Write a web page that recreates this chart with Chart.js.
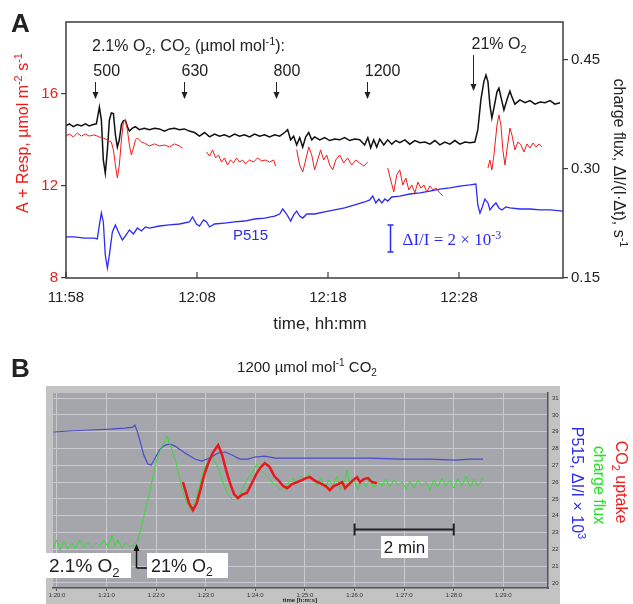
<!DOCTYPE html>
<html>
<head>
<meta charset="utf-8">
<script src="https://cdn.jsdelivr.net/npm/chart.js@4.4.1/dist/chart.umd.min.js"></script>
<style>
  html, body { margin: 0; padding: 0; background: #fff; }
  #wrap { position: relative; width: 633px; height: 604px; overflow: hidden; }
  canvas { position: absolute; left: 0; }
</style>
</head>
<body>
<div id="wrap">
  <canvas id="chartA" width="633" height="340" style="top:0"></canvas>
  <canvas id="chartB" width="633" height="274" style="top:330px"></canvas>
</div>
<script>
// ---------- panel A data: [minutes after 11:58, value] ----------
const timeLabelsA = ["11:58", "12:08", "12:18", "12:28"];
const co2Steps = ["500", "630", "800", "1200"];
const co2StepTimes = [2.24, 8.97, 16.0, 22.96];
const o2StepTime = 31.06;

// charge flux, s-1 (right axis)
const chargeFluxA = [
  [0,0.359],[0.25,0.362],[0.56,0.358],[0.86,0.361],[1.17,0.359],[1.48,0.362],[1.78,0.359],[2.09,0.361],
  [2.32,0.362],[2.55,0.385],[2.70,0.367],[2.85,0.312],[3.00,0.294],[3.16,0.326],[3.31,0.367],[3.46,0.377],
  [3.62,0.376],[3.77,0.347],[3.92,0.330],[4.07,0.340],[4.23,0.361],[4.38,0.366],[4.53,0.367],[4.69,0.358],
  [4.84,0.352],[5.07,0.356],[5.30,0.358],[5.60,0.354],[5.98,0.356],[6.37,0.354],[6.75,0.356],[7.13,0.355],
  [7.52,0.352],[7.90,0.355],[8.28,0.356],[8.66,0.354],[9.04,0.355],[9.42,0.352],[9.81,0.350],[10.19,0.345],
  [10.58,0.350],[10.96,0.344],[11.34,0.348],[11.72,0.345],[12.10,0.347],[12.48,0.344],[12.87,0.348],[13.25,0.345],
  [13.63,0.347],[14.01,0.344],[14.40,0.348],[14.78,0.345],[15.16,0.347],[15.54,0.344],[15.93,0.347],[16.31,0.345],
  [16.69,0.350],[16.92,0.354],[17.15,0.340],[17.38,0.345],[17.61,0.333],[17.84,0.343],[18.07,0.330],[18.30,0.344],
  [18.53,0.350],[18.76,0.340],[18.98,0.344],[19.37,0.340],[19.75,0.343],[20.13,0.339],[20.51,0.341],[20.89,0.340],
  [21.27,0.343],[21.66,0.339],[22.04,0.341],[22.42,0.340],[22.80,0.333],[23.04,0.343],[23.26,0.329],[23.49,0.340],
  [23.72,0.330],[23.95,0.341],[24.26,0.333],[24.56,0.340],[24.87,0.334],[25.18,0.339],[25.48,0.336],[25.87,0.340],
  [26.24,0.334],[26.63,0.339],[27.01,0.336],[27.40,0.337],[27.78,0.334],[28.16,0.339],[28.54,0.333],[28.92,0.337],
  [29.30,0.334],[29.69,0.339],[30.07,0.334],[30.45,0.337],[30.83,0.336],[31.21,0.337],[31.44,0.354],[31.67,0.395],
  [31.90,0.420],[32.06,0.429],[32.21,0.420],[32.36,0.388],[32.51,0.370],[32.67,0.384],[32.90,0.406],[33.05,0.411],
  [33.20,0.399],[33.43,0.381],[33.66,0.395],[33.89,0.407],[34.04,0.399],[34.27,0.389],[34.65,0.395],[35.04,0.391],
  [35.42,0.394],[35.80,0.389],[36.19,0.392],[36.57,0.391],[36.95,0.394],[37.33,0.389],[37.71,0.391]
];

// A + Resp, umol m-2 s-1 (left axis); null = gap between measurements
const assimilationA = [
  [0,14.17],[0.25,14.26],[0.56,14.13],[0.86,14.30],[1.17,14.17],[1.48,14.26],[1.78,14.17],[2.09,14.22],
  [2.39,14.17],[2.55,14.13],[2.85,14.09],[3.16,14.00],[3.46,13.91],[3.62,13.57],[3.77,12.91],[3.92,12.35],
  [4.07,12.91],[4.23,14.00],[4.38,14.78],[4.53,14.87],[4.69,14.43],[4.84,13.78],[4.99,13.35],[5.15,13.65],
  [5.30,14.00],[5.45,14.09],[5.76,13.91],[5.98,13.87],[6.37,13.74],[6.75,13.83],[7.13,13.74],[7.52,13.78],
  [7.90,13.70],[8.28,13.83],[8.66,13.74],[8.89,13.65],
  [9.8,null],
  [10.73,13.48],[10.96,13.30],[11.19,13.57],[11.42,13.22],[11.64,13.35],[11.87,13.04],[12.10,13.22],[12.33,12.91],
  [12.56,13.13],[12.79,13.00],[13.02,13.22],[13.25,13.04],[13.48,13.13],[13.71,12.96],[14.01,13.13],[14.32,13.04],
  [14.62,13.22],[14.93,13.09],[15.24,13.13],[15.54,13.04],[15.85,13.13],[16.00,12.87],
  [16.8,null],
  [17.61,13.57],[17.84,12.91],[18.07,12.61],[18.30,13.13],[18.53,13.70],[18.76,13.35],[18.98,12.70],[19.21,13.13],
  [19.44,13.57],[19.67,13.13],[19.90,13.35],[20.13,12.91],[20.36,12.70],[20.59,13.13],[20.89,13.35],[21.20,13.00],
  [21.50,13.22],[21.81,12.91],[22.12,13.13],[22.42,13.00],[22.73,12.87],[23.04,13.04],
  [23.8,null],
  [24.56,12.78],[24.79,12.26],[25.02,11.74],[25.25,12.48],[25.48,12.70],[25.71,12.04],[25.94,12.35],[26.17,11.83],
  [26.40,12.04],[26.63,11.70],[26.86,12.17],[27.09,11.91],[27.32,12.04],[27.55,11.74],[27.78,12.00],[28.01,11.83],
  [28.24,11.91],[28.54,11.70],[28.77,11.57],
  [30.5,null],
  [32.21,12.78],[32.36,13.13],[32.51,12.70],[32.67,13.35],[32.90,14.65],[33.05,15.09],[33.20,14.65],[33.35,13.57],
  [33.51,12.91],[33.66,13.57],[33.89,14.52],[34.04,14.22],[34.27,13.57],[34.50,13.91],[34.73,13.78],[34.96,13.48],
  [35.19,13.83],[35.42,13.65],[35.65,13.87],[35.88,13.70],[36.11,13.83],[36.34,13.70]
];

// P515 signal, dI/I x 10^3 (arbitrary offset, hidden axis)
const p515A = [
  [0,3.04],[0.63,3.04],[1.40,2.96],[2.16,2.96],[2.39,2.89],[2.55,3.93],[2.70,4.81],[2.85,4.15],
  [3.00,1.70],[3.16,0.74],[3.31,1.70],[3.54,3.41],[3.77,3.93],[4.00,3.41],[4.30,2.81],[4.53,3.11],
  [4.84,3.56],[5.15,3.26],[5.45,3.70],[5.76,3.48],[6.06,3.78],[6.37,3.70],[7.13,3.85],[7.90,3.93],
  [8.66,4.00],[9.42,4.15],[9.66,4.52],[9.96,4.00],[10.19,3.85],[10.50,4.30],[10.73,4.15],[10.96,3.78],
  [11.34,4.00],[12.10,4.07],[12.87,4.15],[13.63,4.22],[14.40,4.37],[15.16,4.44],[15.93,4.59],[16.31,4.74],
  [16.54,5.11],[16.84,4.74],[17.15,4.22],[17.38,4.67],[17.61,4.96],[17.84,4.59],[18.07,4.44],[18.38,4.74],
  [18.98,4.74],[19.75,4.89],[20.51,5.04],[21.27,5.19],[22.04,5.41],[22.80,5.63],[23.19,5.78],[23.42,6.07],
  [23.65,5.56],[23.88,5.85],[24.11,5.56],[24.34,5.85],[24.56,5.70],[24.87,6.00],[25.48,6.07],[26.24,6.22],
  [27.01,6.30],[27.78,6.44],[28.54,6.59],[29.30,6.67],[30.07,6.81],[30.83,6.89],[31.29,6.96],[31.44,5.41],
  [31.60,4.81],[31.75,5.19],[31.98,5.85],[32.21,5.56],[32.36,5.04],[32.59,5.33],[32.82,5.56],[33.05,5.19],
  [33.28,5.04],[33.58,5.26],[33.89,5.19],[34.65,5.11],[35.42,5.11],[36.19,5.04],[36.95,5.04],[37.94,4.96]
];
const p515ScaleBar = { t: 24.72, from: 1.93, to: 3.93 };

// ---------- panel B data: [minutes after 1:20:00, value on instrument axis] ----------
const timeLabelsB = ["1:20:0","1:21:0","1:22:0","1:23:0","1:24:0","1:25:0","1:26:0","1:27:0","1:28:0","1:29:0"];
const o2SwitchB = 1.59;
const twoMinBar = { from: 6, to: 8, y: 23.2 };

const p515B = [
  [-0.08,28.98],[0.26,29.04],[0.67,29.10],[1.07,29.15],[1.37,29.21],[1.53,29.27],[1.57,29.39],[1.61,29.10],
  [1.67,28.50],[1.75,27.61],[1.83,27.07],[1.90,27.01],[1.98,27.43],[2.08,27.96],[2.18,28.20],[2.28,28.26],
  [2.38,28.14],[2.58,27.73],[2.78,27.37],[2.92,27.25],[3.08,27.43],[3.25,27.73],[3.39,27.79],[3.53,27.61],
  [3.69,27.37],[3.85,27.37],[3.99,27.49],[4.19,27.55],[4.40,27.43],[4.70,27.43],[5.10,27.43],[5.71,27.43],
  [6.31,27.43],[6.92,27.37],[7.52,27.37],[8.02,27.31],[8.33,27.37],[8.59,27.37]
];

const chargeFluxB = [
  [-0.08,22.07],[0,22.55],[0.06,21.95],[0.14,22.49],[0.22,22.01],[0.30,22.37],[0.38,22.07],[0.46,22.55],
  [0.54,22.13],[0.62,22.43],[0.71,22.07],[0.79,22.37],[0.87,22.19],[0.95,22.55],[1.03,22.13],[1.11,22.85],
  [1.17,22.19],[1.23,22.55],[1.31,22.07],[1.39,22.37],[1.47,22.13],[1.55,22.25],[1.63,22.55],[1.71,23.44],
  [1.79,24.45],[1.88,25.52],[1.96,26.71],[2.04,27.61],[2.12,28.14],[2.18,28.50],[2.22,28.74],[2.26,28.38],
  [2.32,27.90],[2.40,27.19],[2.48,26.12],[2.56,25.23],[2.64,24.63],[2.72,24.33],[2.80,24.93],[2.88,25.82],
  [2.96,26.71],[3.04,27.19],[3.12,27.55],[3.19,27.19],[3.27,26.71],[3.35,25.94],[3.45,25.23],[3.55,24.93],
  [3.65,25.05],[3.75,25.64],[3.85,26.24],[3.95,26.60],[4.03,27.07],[4.11,26.71],[4.19,26.48],[4.27,26.24],
  [4.35,25.94],[4.44,25.76],[4.52,25.52],[4.60,25.76],[4.68,26.00],[4.76,26.24],[4.84,25.94],[4.92,26.36],
  [5.00,26.12],[5.08,26.48],[5.16,26.18],[5.24,25.82],[5.32,26.24],[5.40,25.64],[5.48,26.12],[5.56,25.76],
  [5.65,26.36],[5.71,25.52],[5.79,26.00],[5.85,26.71],[5.91,25.76],[5.99,26.12],[6.07,25.58],[6.15,26.18],
  [6.23,25.70],[6.31,26.24],[6.39,25.64],[6.47,26.06],[6.55,25.76],[6.63,26.18],[6.71,25.70],[6.79,26.12],
  [6.88,25.82],[6.96,26.00],[7.04,25.58],[7.12,26.06],[7.20,25.64],[7.28,26.12],[7.36,25.76],[7.44,26.00],
  [7.52,25.52],[7.60,26.12],[7.68,25.70],[7.76,26.24],[7.84,25.76],[7.92,26.12],[8.00,25.64],[8.08,26.24],
  [8.17,25.76],[8.25,26.36],[8.33,25.70],[8.41,26.18],[8.49,25.76],[8.59,26.24]
];

const co2UptakeB = [
  [2.54,26.00],[2.60,25.40],[2.66,24.75],[2.74,24.33],[2.82,24.75],[2.90,25.64],[2.98,26.54],[3.06,27.19],
  [3.15,27.79],[3.25,28.20],[3.33,27.61],[3.41,26.71],[3.49,25.94],[3.57,25.29],[3.65,25.05],[3.75,25.29],
  [3.83,25.35],[3.93,25.94],[4.03,26.54],[4.11,26.89],[4.19,27.13],[4.29,26.89],[4.38,26.36],[4.46,26.12],
  [4.56,25.76],[4.64,25.64],[4.74,25.88],[4.84,26.00],[4.94,26.12],[5.02,26.24],[5.10,26.30],[5.18,26.12],
  [5.26,26.00],[5.34,25.88],[5.42,25.76],[5.50,25.52],[5.58,25.76],[5.67,25.88],[5.75,26.00],[5.81,25.64],
  [5.89,25.88],[5.97,26.12],[6.05,26.30],[6.11,26.00],[6.19,26.18],[6.27,26.24],[6.35,26.00],[6.45,25.94]
];

const FONT = '"Liberation Sans", Arial, sans-serif';
const SERIF = '"Liberation Serif", "Times New Roman", serif';
const toXY = arr => arr.map(p => ({ x: p[0], y: p[1] }));

// parts: [text, mode] with mode 0 normal, 1 superscript, -1 subscript
function richText(ctx, parts, x, y, size, align, family) {
  family = family || FONT;
  const small = Math.round(size * 0.68);
  let total = 0;
  parts.forEach(([s, m]) => {
    ctx.font = (m ? small : size) + "px " + family;
    total += ctx.measureText(s).width;
  });
  let cx = align === "center" ? x - total / 2 : align === "right" ? x - total : x;
  ctx.textAlign = "left";
  ctx.textBaseline = "alphabetic";
  parts.forEach(([s, m]) => {
    ctx.font = (m ? small : size) + "px " + family;
    const dy = m === 1 ? -size * 0.38 : m === -1 ? size * 0.24 : 0;
    ctx.fillText(s, cx, y + dy);
    cx += ctx.measureText(s).width;
  });
}

function rotatedText(ctx, parts, cx, cy, size, angle, color) {
  ctx.save();
  ctx.translate(cx, cy);
  ctx.rotate(angle);
  ctx.fillStyle = color;
  richText(ctx, parts, 0, size * 0.36, size, "center");
  ctx.restore();
}

function arrow(ctx, x, y1, y2) {
  const dir = y2 > y1 ? 1 : -1;
  ctx.beginPath();
  ctx.moveTo(x, y1);
  ctx.lineTo(x, y2 - dir * 5);
  ctx.stroke();
  ctx.beginPath();
  ctx.moveTo(x, y2);
  ctx.lineTo(x - 3, y2 - dir * 7);
  ctx.lineTo(x + 3, y2 - dir * 7);
  ctx.closePath();
  ctx.fill();
}

const annotA = {
  id: "annotA",
  afterDraw(chart) {
    const { ctx, chartArea: ca, scales } = chart;
    const xs = scales.x, yP = scales.yP;
    ctx.save();
    ctx.strokeStyle = "#3c3c3c";
    ctx.lineWidth = 1.5;
    ctx.strokeRect(ca.left, ca.top, ca.right - ca.left, ca.bottom - ca.top);
    // inner ticks on the time axis
    ctx.lineWidth = 1.2;
    xs.ticks.forEach(t => {
      const px = xs.getPixelForValue(t.value);
      ctx.beginPath(); ctx.moveTo(px, ca.bottom); ctx.lineTo(px, ca.bottom - 6); ctx.stroke();
    });

    ctx.fillStyle = "#222";
    ctx.font = "bold 26px " + FONT;
    ctx.textAlign = "left"; ctx.textBaseline = "alphabetic";
    ctx.fillText("A", 11, 32);

    richText(ctx, [["2.1% O", 0], ["2", -1], [", CO", 0], ["2", -1], [" (µmol mol", 0], ["-1", 1], ["):", 0]], 92, 51, 16, "left");
    ctx.strokeStyle = "#222"; ctx.fillStyle = "#222"; ctx.lineWidth = 1;
    co2StepTimes.forEach((t, i) => {
      const px = xs.getPixelForValue(t);
      richText(ctx, [[co2Steps[i], 0]], px - 2, 76, 16, "left");
      arrow(ctx, Math.round(px) + 0.5, 82, 99);
    });
    const o2x = Math.round(xs.getPixelForValue(o2StepTime)) + 0.5;
    richText(ctx, [["21% O", 0], ["2", -1]], o2x - 2, 49, 16, "left");
    arrow(ctx, o2x, 55, 91);

    // P515 label and scale bar
    ctx.fillStyle = "#2b2bf5"; ctx.strokeStyle = "#2b2bf5";
    richText(ctx, [["P515", 0]], 233, 240, 15, "left");
    const bx = Math.round(xs.getPixelForValue(p515ScaleBar.t)) + 0.5;
    const by1 = yP.getPixelForValue(p515ScaleBar.to), by2 = yP.getPixelForValue(p515ScaleBar.from);
    ctx.lineWidth = 1.5;
    ctx.beginPath();
    ctx.moveTo(bx, by1); ctx.lineTo(bx, by2);
    ctx.moveTo(bx - 3, by1); ctx.lineTo(bx + 3, by1);
    ctx.moveTo(bx - 3, by2); ctx.lineTo(bx + 3, by2);
    ctx.stroke();
    richText(ctx, [["ΔI/I = 2 × 10", 0], ["-3", 1]], bx + 12, 245, 17, "left", SERIF);

    // axis titles
    rotatedText(ctx, [["A + Resp, µmol m", 0], ["-2", 1], [" s", 0], ["-1", 1]], 22, 133, 16, -Math.PI / 2, "#f01a1a");
    rotatedText(ctx, [["charge flux, ΔI/(I·Δt), s", 0], ["-1", 1]], 620, 163, 16, Math.PI / 2, "#222");
    ctx.fillStyle = "#222";
    richText(ctx, [["time, hh:mm", 0]], 320, 329, 17, "center");
    ctx.restore();
  }
};

new Chart(document.getElementById("chartA"), {
  type: "line",
  data: {
    datasets: [
      { data: toXY(assimilationA), yAxisID: "y", borderColor: "#f01a1a", borderWidth: 1, spanGaps: false },
      { data: toXY(chargeFluxA), yAxisID: "yR", borderColor: "#111", borderWidth: 1.5 },
      { data: toXY(p515A), yAxisID: "yP", borderColor: "#2b2bf5", borderWidth: 1.3 }
    ]
  },
  options: {
    responsive: false,
    animation: false,
    devicePixelRatio: 1,
    elements: { point: { radius: 0 }, line: { tension: 0 } },
    layout: { padding: { top: 22, left: 0, right: 0, bottom: 0 } },
    plugins: { legend: { display: false }, tooltip: { enabled: false } },
    scales: {
      x: {
        type: "linear", min: 0, max: 37.94,
        grid: { display: false, drawTicks: false },
        border: { display: false },
        ticks: {
          stepSize: 10, includeBounds: false, autoSkip: false, maxRotation: 0, padding: 11,
          color: "#222", font: { size: 15, family: FONT },
          callback: v => timeLabelsA[Math.round(v / 10)]
        },
        afterFit: s => { s.height = 62; }
      },
      y: {
        position: "left", min: 8, max: 19.13,
        grid: { drawOnChartArea: false, tickLength: 5, tickColor: "#3c3c3c", lineWidth: 1.2 },
        border: { display: false },
        ticks: { stepSize: 4, includeBounds: false, padding: 3, color: "#f01a1a", font: { size: 15, family: FONT } },
        afterFit: s => { s.width = 66; }
      },
      yR: {
        position: "right", min: 0.15, max: 0.502,
        grid: { drawOnChartArea: false, tickLength: 5, tickColor: "#3c3c3c", lineWidth: 1.2 },
        border: { display: false },
        ticks: { stepSize: 0.15, includeBounds: false, padding: 3, color: "#222", font: { size: 15, family: FONT },
          callback: v => v.toFixed(2) },
        afterFit: s => { s.width = 70; }
      },
      yP: { display: false, min: 0, max: 18.96 }
    }
  },
  plugins: [annotA]
});

const annotB = {
  id: "annotB",
  beforeDraw(chart) {
    const { ctx, chartArea: ca } = chart;
    ctx.save();
    ctx.fillStyle = "#c3c3c3";
    ctx.fillRect(46, 56, 514, 218);
    ctx.fillStyle = "#a5a5ac";
    ctx.fillRect(ca.left, ca.top, ca.right - ca.left, ca.bottom - ca.top);
    ctx.restore();
  },
  afterDraw(chart) {
    const { ctx, scales } = chart;
    const xs = scales.x, ys = scales.y;
    ctx.save();
    ctx.fillStyle = "#222";
    ctx.font = "bold 26px " + FONT;
    ctx.textAlign = "left"; ctx.textBaseline = "alphabetic";
    ctx.fillText("B", 11, 47);
    richText(ctx, [["1200 µmol mol", 0], ["-1", 1], [" CO", 0], ["2", -1]], 307, 42, 15, "center");

    // O2 switch boxes and arrow
    ctx.fillStyle = "#fff";
    ctx.fillRect(46, 223, 85, 25);
    ctx.fillRect(147, 223, 81, 25);
    ctx.fillStyle = "#222";
    richText(ctx, [["2.1% O", 0], ["2", -1]], 49, 242, 19, "left");
    richText(ctx, [["21% O", 0], ["2", -1]], 151, 242, 18, "left");
    const ax = Math.round(xs.getPixelForValue(o2SwitchB)) + 0.5;
    ctx.strokeStyle = "#111"; ctx.fillStyle = "#111"; ctx.lineWidth = 1.5;
    arrow(ctx, ax, 238, 214);
    ctx.beginPath(); ctx.moveTo(ax, 238); ctx.lineTo(147, 238); ctx.stroke();

    // 2 min scale bar
    const x1 = xs.getPixelForValue(twoMinBar.from), x2 = xs.getPixelForValue(twoMinBar.to);
    const yb = Math.round(ys.getPixelForValue(twoMinBar.y)) + 0.5;
    ctx.strokeStyle = "#222"; ctx.lineWidth = 2;
    ctx.beginPath();
    ctx.moveTo(x1, yb); ctx.lineTo(x2, yb);
    ctx.moveTo(x1, yb - 6); ctx.lineTo(x1, yb + 6);
    ctx.moveTo(x2, yb - 6); ctx.lineTo(x2, yb + 6);
    ctx.stroke();
    ctx.fillStyle = "#fff";
    ctx.fillRect(381, 206, 47, 22);
    ctx.fillStyle = "#222";
    richText(ctx, [["2 min", 0]], 404.5, 223, 17, "center");

    ctx.font = "bold 6px " + FONT;
    ctx.textAlign = "center";
    ctx.fillText("time [h:m:s]", 300, 272);

    rotatedText(ctx, [["P515, ΔI/I × 10", 0], ["3", 1]], 578, 153, 16, Math.PI / 2, "#2b2bf5");
    rotatedText(ctx, [["charge flux", 0]], 600, 155, 16, Math.PI / 2, "#22e022");
    rotatedText(ctx, [["CO", 0], ["2", -1], [" uptake", 0]], 622, 152, 16, Math.PI / 2, "#f01a1a");
    ctx.restore();
  }
};

new Chart(document.getElementById("chartB"), {
  type: "line",
  data: {
    datasets: [
      { data: toXY(co2UptakeB), borderColor: "#e8181c", borderWidth: 2.5 },
      { data: toXY(chargeFluxB), borderColor: "#33e033", borderWidth: 1 },
      { data: toXY(p515B), borderColor: "#4a4ad0", borderWidth: 1.2 }
    ]
  },
  options: {
    responsive: false,
    animation: false,
    devicePixelRatio: 1,
    elements: { point: { radius: 0 }, line: { tension: 0 } },
    layout: { padding: { top: 63, left: 53, right: 0, bottom: 0 } },
    plugins: { legend: { display: false }, tooltip: { enabled: false } },
    scales: {
      x: {
        type: "linear", min: -0.08, max: 9.9,
        grid: { color: "#c9c9cf", lineWidth: 1, tickLength: 3, tickColor: "#555" },
        border: { color: "#555", width: 1.5 },
        ticks: {
          stepSize: 1, includeBounds: false, autoSkip: false, maxRotation: 0, padding: 1,
          color: "#333", font: { size: 6, family: FONT },
          callback: v => timeLabelsB[Math.round(v)]
        },
        afterFit: s => { s.height = 16; }
      },
      y: {
        position: "right", min: 19.7, max: 31.3,
        grid: { color: "#c9c9cf", lineWidth: 1, drawTicks: false },
        border: { color: "#555", width: 1.5 },
        ticks: { stepSize: 1, includeBounds: false, padding: 4, color: "#333", font: { size: 6, family: FONT } },
        afterFit: s => { s.width = 85; }
      }
    }
  },
  plugins: [annotB]
});
</script>
</body>
</html>
